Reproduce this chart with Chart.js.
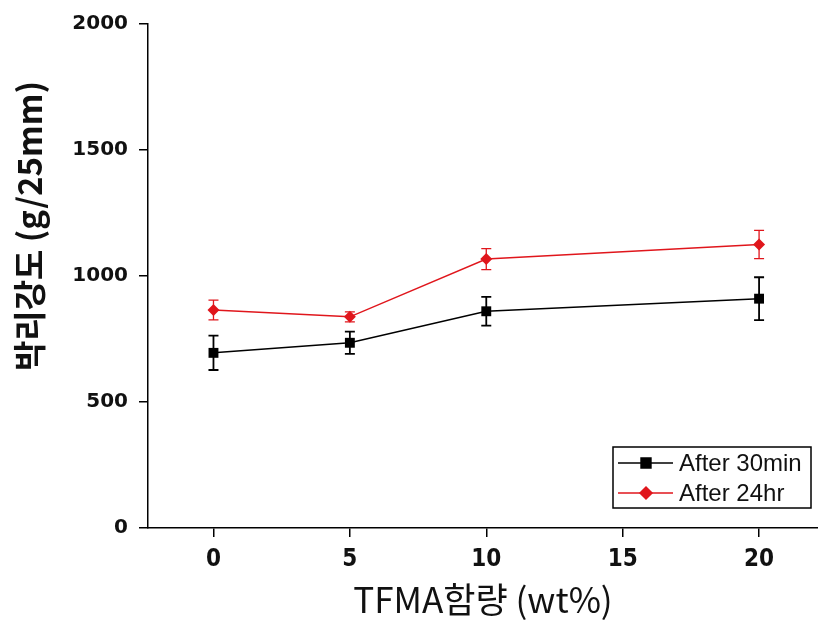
<!DOCTYPE html>
<html>
<head>
<meta charset="utf-8">
<script src="https://cdn.jsdelivr.net/npm/chart.js@4.4.0/dist/chart.umd.min.js"></script>
<style>
  html, body { margin: 0; padding: 0; background: #fff; }
  #peelChart { display: block; }
</style>
</head>
<body>
<canvas id="peelChart" width="818" height="629"></canvas>
<script>
// TFMA 함량 (wt%)
var tfmaContent = [0, 5, 10, 20];
var xTicks = [0, 5, 10, 15, 20];
var yTicks = [0, 500, 1000, 1500, 2000];

// 박리강도 (g/25mm)
var after30min = [695, 735, 860, 910];
var after30minErr = [68, 44, 57, 85];
var after24hr = [865, 838, 1067, 1125];
var after24hrErr = [39, 20, 42, 56];

var seriesLabels = ['After 30min', 'After 24hr'];
var yTitle = '박리강도 (g/25mm)';
var xTitle = 'TFMA함량 (wt%)';

function toPoints(xs, ys, errs) {
    return xs.map(function (x, i) { return { x: x, y: ys[i], err: errs[i] }; });
}

// 에러바 그리기
var errorBarPlugin = {
    id: 'errorBars',
    afterDatasetsDraw: function (chart) {
        var ctx = chart.ctx;
        var xs = chart.scales.x, ys = chart.scales.y;
        chart.data.datasets.forEach(function (ds) {
            ctx.save();
            ctx.strokeStyle = ds.borderColor;
            ctx.lineWidth = ds.errorWidth || 1.5;
            ds.data.forEach(function (p) {
                var px = xs.getPixelForValue(p.x);
                var top = ys.getPixelForValue(p.y + p.err);
                var bot = ys.getPixelForValue(p.y - p.err);
                ctx.beginPath();
                ctx.moveTo(px, top); ctx.lineTo(px, bot);
                ctx.moveTo(px - 5, top); ctx.lineTo(px + 5, top);
                ctx.moveTo(px - 5, bot); ctx.lineTo(px + 5, bot);
                ctx.stroke();
            });
            ctx.restore();
        });
    }
};

// 범례 박스 (오른쪽 아래)
var boxLegendPlugin = {
    id: 'boxLegend',
    afterDraw: function (chart) {
        var ctx = chart.ctx;
        var area = chart.chartArea;
        var w = 198, h = 61;
        var left = area.right - 7 - w;
        var top = area.bottom - 20 - h;
        ctx.save();
        ctx.fillStyle = '#fff';
        ctx.fillRect(left, top, w, h);
        ctx.strokeStyle = '#000';
        ctx.lineWidth = 1.5;
        ctx.strokeRect(left, top, w, h);
        chart.data.datasets.forEach(function (ds, i) {
            var cy = top + 16 + i * 30;
            ctx.strokeStyle = ds.borderColor;
            ctx.lineWidth = 1.5;
            ctx.beginPath();
            ctx.moveTo(left + 5, cy); ctx.lineTo(left + 60, cy);
            ctx.stroke();
            ctx.fillStyle = ds.borderColor;
            Chart.helpers.drawPoint(ctx, { pointStyle: ds.pointStyle, radius: ds.pointRadius, borderWidth: 1 }, left + 33, cy);
            ctx.fill();
            ctx.fillStyle = '#111';
            ctx.font = '24px "Liberation Sans", Arial, sans-serif';
            ctx.textAlign = 'left';
            ctx.textBaseline = 'middle';
            ctx.fillText(ds.label, left + 66, cy + 1);
        });
        ctx.restore();
    }
};

// 세로축 제목
var yTitlePlugin = {
    id: 'yTitle',
    afterDraw: function (chart) {
        var ctx = chart.ctx;
        ctx.save();
        ctx.translate(29, 226);
        ctx.rotate(-Math.PI / 2);
        ctx.fillStyle = '#111';
        ctx.font = 'bold 33px "Noto Sans CJK KR", sans-serif';
        ctx.textAlign = 'center';
        ctx.textBaseline = 'middle';
        ctx.fillText(yTitle, 0, 0);
        ctx.restore();
    }
};

var ctx = document.getElementById('peelChart').getContext('2d');
var peelChart = new Chart(ctx, {
    type: 'line',
    data: {
        datasets: [{
            label: seriesLabels[0],
            data: toPoints(tfmaContent, after30min, after30minErr),
            borderColor: '#000000',
            backgroundColor: '#000000',
            borderWidth: 1.5,
            pointStyle: 'rect',
            pointRadius: 7,
            pointBorderWidth: 0,
            errorWidth: 1.8,
            tension: 0
        }, {
            label: seriesLabels[1],
            data: toPoints(tfmaContent, after24hr, after24hrErr),
            borderColor: '#e0161c',
            backgroundColor: '#e0161c',
            borderWidth: 1.5,
            pointStyle: 'rectRot',
            pointRadius: 6,
            pointBorderWidth: 0,
            errorWidth: 1.3,
            tension: 0
        }]
    },
    options: {
        responsive: false,
        animation: false,
        layout: { autoPadding: false, padding: { top: 24, left: 0, right: 0, bottom: 0 } },
        plugins: {
            legend: { display: false },
            tooltip: { enabled: false }
        },
        scales: {
            x: {
                type: 'linear',
                min: -2.4,
                max: 22.16,
                afterBuildTicks: function (scale) {
                    scale.ticks = xTicks.map(function (v) { return { value: v }; });
                },
                afterFit: function (scale) {
                    scale.height = 101;
                    scale.paddingLeft = 0;
                    scale.paddingRight = 0;
                },
                grid: { drawOnChartArea: false, drawTicks: true, tickLength: 9, color: '#000', lineWidth: 1.5 },
                border: { display: true, color: '#000', width: 1.5 },
                ticks: {
                    padding: 8,
                    color: '#111',
                    callback: function (v) { return String(v); },
                    font: { family: '"Liberation Sans Narrow", "DejaVu Sans Condensed", "Liberation Sans", sans-serif', size: 24, weight: 'bold' }
                },
                title: {
                    display: true,
                    text: xTitle,
                    color: '#111',
                    padding: { top: 0, bottom: 8 },
                    font: { family: '"Noto Sans CJK KR", sans-serif', size: 35, weight: 'normal' }
                }
            },
            y: {
                min: 0,
                max: 2000,
                afterBuildTicks: function (scale) {
                    scale.ticks = yTicks.map(function (v) { return { value: v }; });
                },
                afterFit: function (scale) { scale.width = 148; },
                grid: { drawOnChartArea: false, drawTicks: true, tickLength: 9, color: '#000', lineWidth: 1.5 },
                border: { display: true, color: '#000', width: 1.5 },
                ticks: {
                    padding: 11,
                    color: '#111',
                    callback: function (v) { return String(v); },
                    font: { family: '"DejaVu Sans", sans-serif', size: 20, weight: 'bold' }
                }
            }
        }
    },
    plugins: [errorBarPlugin, boxLegendPlugin, yTitlePlugin]
});
</script>
</body>
</html>
